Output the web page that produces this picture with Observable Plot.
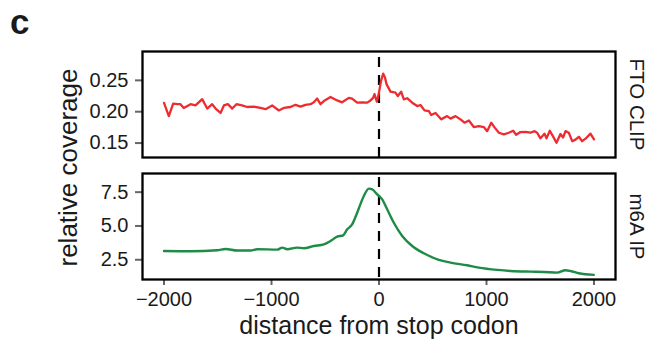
<!DOCTYPE html>
<html><head><meta charset="utf-8">
<script src="https://cdn.jsdelivr.net/npm/d3@7"></script>
<script src="https://cdn.jsdelivr.net/npm/@observablehq/plot@0.6"></script>
<style>
body{margin:0;background:#fff;}
#chart{position:relative;width:648px;height:347px;font-family:"Liberation Sans",Arial,Helvetica,sans-serif;overflow:hidden;}
#chart > svg{position:absolute;left:0;overflow:visible;}
</style></head><body><div id="chart"></div>
<script>
// ---- data ----
const panelLabel = "c";
const yTitle = "relative coverage";
const xTitle = "distance from stop codon";
const seriesNames = ["FTO CLIP", "m6A IP"];
const xTicks = [-2000, -1000, 0, 1000, 2000];
const yTicksTop = [0.15, 0.20, 0.25];
const yTicksBottom = [2.5, 5.0, 7.5];

const ftoX = [-2000,-1955,-1915,-1877,-1847,-1816,-1753,-1707,-1645,-1598,-1552,-1520,-1474,-1443,-1406,-1365,-1326,-1274,-1226,-1164,-1102,-1055,-994,-932,-886,-823,-777,-730,-684,-637,-606,-575,-544,-513,-451,-389,-343,-281,-250,-203,-157,-110,-79,-55,-42,-20,-5,20,39,55,70,107,153,175,206,231,262,309,355,386,423,464,485,526,578,634,665,712,758,795,836,882,929,975,1006,1044,1075,1115,1161,1208,1248,1276,1316,1363,1409,1447,1471,1502,1539,1558,1589,1620,1651,1688,1713,1735,1766,1797,1828,1859,1890,1921,1967,2000];
const ftoY = [0.214,0.193,0.213,0.212,0.212,0.206,0.212,0.210,0.220,0.205,0.212,0.205,0.198,0.210,0.212,0.205,0.212,0.210,0.2075,0.208,0.206,0.204,0.210,0.202,0.206,0.2075,0.211,0.208,0.211,0.212,0.215,0.221,0.212,0.217,0.2235,0.218,0.215,0.222,0.221,0.2145,0.215,0.2145,0.218,0.222,0.228,0.216,0.226,0.250,0.2607,0.255,0.244,0.232,0.2305,0.225,0.232,0.2198,0.2215,0.2144,0.209,0.2107,0.2022,0.201,0.1947,0.198,0.1878,0.193,0.189,0.193,0.1878,0.1825,0.186,0.1756,0.177,0.1756,0.169,0.1825,0.175,0.1665,0.164,0.1665,0.1697,0.1633,0.1676,0.168,0.1665,0.169,0.1665,0.1575,0.165,0.1575,0.1697,0.1602,0.1505,0.1645,0.159,0.169,0.1665,0.153,0.1555,0.160,0.153,0.157,0.165,0.156];

const m6aX = [-2000,-1753,-1505,-1427,-1319,-1195,-1133,-947,-900,-854,-761,-699,-606,-513,-451,-389,-333,-296,-250,-203,-141,-95,-63,-17,30,76,138,216,309,417,556,665,820,928,1100,1223,1409,1533,1658,1735,1781,1859,1998];
const m6aY = [3.15,3.13,3.20,3.30,3.18,3.18,3.28,3.25,3.40,3.28,3.40,3.35,3.52,3.64,3.89,4.21,4.31,4.75,5.12,5.98,7.22,7.76,7.71,7.34,6.97,6.23,5.24,4.26,3.52,2.98,2.49,2.29,2.09,1.92,1.75,1.67,1.62,1.60,1.55,1.72,1.67,1.50,1.38];

const fto = ftoX.map((x, i) => ({x, y: ftoY[i]}));
const m6a = m6aX.map((x, i) => ({x, y: m6aY[i]}));

const font = '"Liberation Sans", Arial, Helvetica, sans-serif';
const tickCol = "#666";
const textCol = "#1a1a1a";
const xFmt = d => (d < 0 ? "\u2212" + Math.abs(d) : String(d));

const chart = document.getElementById("chart");

const topPlot = Plot.plot({
  width: 648, height: 165,
  marginLeft: 142, marginRight: 33, marginTop: 51, marginBottom: 8,
  style: {fontFamily: font, background: "transparent", color: textCol},
  x: {domain: [-2200, 2200], axis: null},
  y: {domain: [0.127, 0.296], axis: null},
  marks: [
    Plot.axisY(yTicksTop, {tickSize: 7, tickPadding: 7, fontSize: 20, stroke: tickCol, strokeWidth: 2, fill: textCol, tickFormat: d3.format(".2f"), label: null}),
    Plot.ruleX([0], {stroke: "black", strokeWidth: 2.2, strokeDasharray: "10,8", strokeDashoffset: -6}),
    Plot.line(fto, {x: "x", y: "y", stroke: "#EE2C30", strokeWidth: 2.3, strokeLinejoin: "round"}),
    Plot.frame({stroke: "black", strokeWidth: 2.3}),
    Plot.text([seriesNames[0]], {frameAnchor: "right", dx: 21, rotate: 90, fontSize: 20.5, fill: textCol, textAnchor: "middle"})
  ]
});
topPlot.style.top = "0px";
chart.appendChild(topPlot);

const botPlot = Plot.plot({
  width: 648, height: 182,
  marginLeft: 142, marginRight: 33, marginTop: 8, marginBottom: 68,
  style: {fontFamily: font, background: "transparent", color: textCol},
  x: {domain: [-2200, 2200], axis: null},
  y: {domain: [1.04, 8.88], axis: null},
  marks: [
    Plot.axisY(yTicksBottom, {tickSize: 7, tickPadding: 7, fontSize: 20, stroke: tickCol, strokeWidth: 2, fill: textCol, tickFormat: d3.format(".1f"), label: null}),
    Plot.axisX(xTicks, {tickSize: 6, tickPadding: 6.5, fontSize: 20, stroke: tickCol, strokeWidth: 2, fill: textCol, tickFormat: xFmt, label: null}),
    Plot.ruleX([0], {stroke: "black", strokeWidth: 2.2, strokeDasharray: "10,8", strokeDashoffset: -4}),
    Plot.line(m6a, {x: "x", y: "y", stroke: "#1E8B46", strokeWidth: 2.4, strokeLinejoin: "round", curve: "monotone-x"}),
    Plot.frame({stroke: "black", strokeWidth: 2.3}),
    Plot.text([seriesNames[1]], {frameAnchor: "right", dx: 21, rotate: 90, fontSize: 20.5, fill: textCol, textAnchor: "middle"})
  ]
});
botPlot.style.top = "165px";
chart.appendChild(botPlot);

// overlay annotations
const svg = d3.select(chart).append("svg")
  .attr("width", 648).attr("height", 347)
  .style("top", "0px").style("pointer-events", "none")
  .style("font-family", font);
svg.append("text").attr("x", 10).attr("y", 34)
  .attr("font-size", 35).attr("font-weight", "bold").attr("fill", textCol).text(panelLabel);
svg.append("text").attr("transform", "translate(77,167.5) rotate(-90)")
  .attr("text-anchor", "middle").attr("font-size", 26).attr("fill", textCol).text(yTitle);
svg.append("text").attr("x", 379).attr("y", 333.5)
  .attr("text-anchor", "middle").attr("font-size", 25).attr("fill", textCol).text(xTitle);
</script></body></html>
